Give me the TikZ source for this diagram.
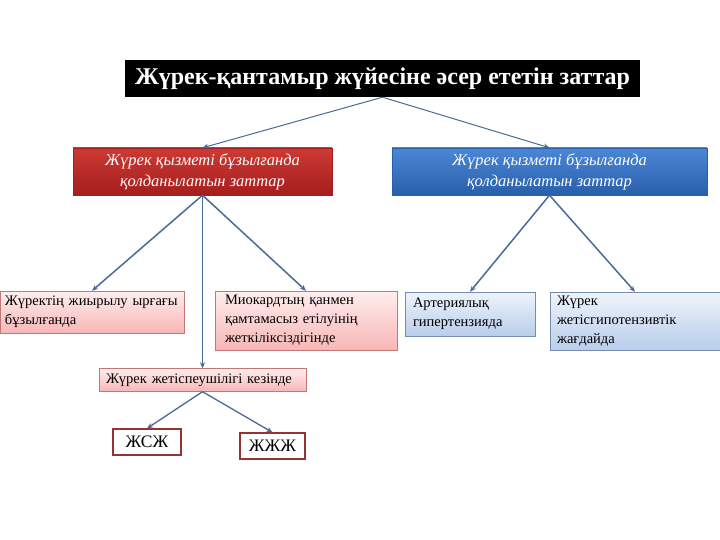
\documentclass[tikz,border=0pt]{standalone}
\usepackage{fontspec}
\setmainfont{Liberation Serif}
\usetikzlibrary{arrows.meta}
\definecolor{redtop}{RGB}{205,58,52}
\definecolor{redbot}{RGB}{165,30,30}
\definecolor{bluetop}{RGB}{75,135,215}
\definecolor{bluebot}{RGB}{40,95,170}
\definecolor{pinktop}{RGB}{255,238,238}
\definecolor{pinkbot}{RGB}{248,182,182}
\definecolor{pinkline}{RGB}{195,120,120}
\definecolor{skytop}{RGB}{238,244,252}
\definecolor{skybot}{RGB}{185,205,235}
\definecolor{skyline}{RGB}{120,140,175}
\definecolor{leafline}{RGB}{150,50,50}
\definecolor{linkcol}{RGB}{75,105,150}
\tikzstyle{heading} = [rectangle, fill=black, text=white, minimum width=515pt,
minimum height=37pt, inner sep=0pt, font=\bfseries\fontsize{24}{26}\selectfont]
\tikzstyle{redgroup} = [rectangle, top color=redtop, bottom color=redbot,
draw=redbot, text=white, minimum width=259pt, minimum height=47pt, inner sep=0pt,
align=center, font=\itshape\fontsize{16.5}{21}\selectfont]
\tikzstyle{bluegroup} = [rectangle, top color=bluetop, bottom color=bluebot,
draw=bluebot, text=white, minimum width=315pt, minimum height=47pt, inner sep=0pt,
align=center, font=\itshape\fontsize{16.5}{21}\selectfont]
\tikzstyle{pinkcase} = [rectangle, top color=pinktop, bottom color=pinkbot,
draw=pinkline, inner sep=0pt, align=left, font=\fontsize{14.5}{19}\selectfont]
\tikzstyle{skycase} = [rectangle, top color=skytop, bottom color=skybot,
draw=skyline, inner sep=0pt, align=left, font=\fontsize{14.5}{19}\selectfont]
\tikzstyle{leaf} = [rectangle, fill=white, draw=leafline, line width=1.2pt,
inner sep=0pt, minimum height=26pt, font=\fontsize{17.5}{20}\selectfont]
\tikzstyle{link} = [draw=linkcol, line width=1pt, -{Stealth[length=6pt,width=5pt]}]

\begin{document}
\begin{tikzpicture}[x=1pt, y=-1pt]
    \useasboundingbox (0,0) rectangle (720,540);
    \node (top) [heading] at (382.5,78.5) {Жүрек-қантамыр жүйесіне әсер ететін заттар};
    \node (g1) [redgroup] at (202.5,171.5) {Жүрек қызметі бұзылғанда\\қолданылатын заттар};
    \node (g2) [bluegroup] at (549.5,171.5) {Жүрек қызметі бұзылғанда\\қолданылатын заттар};
    \node (c1) [pinkcase, minimum width=184pt, minimum height=42pt,
      text width=174pt] at (92,312) {Жүректің жиырылу ырғағы\\бұзылғанда};
    \node (c2) [pinkcase, minimum width=182pt, minimum height=59pt,
      text width=162pt] at (306,320.5) {Миокардтың қанмен\\қамтамасыз етілуінің\\жеткіліксіздігінде};
    \node (c3) [pinkcase, minimum width=207pt, minimum height=23pt,
      text width=193pt] at (202.5,380) {Жүрек жетіспеушілігі кезінде};
    \node (c4) [skycase, minimum width=130pt, minimum height=44pt,
      text width=114pt] at (470,314) {Артериялық\\гипертензияда};
    \node (c5) [skycase, minimum width=170pt, minimum height=58pt,
      text width=156pt] at (635,321) {Жүрек\\жетісгипотензивтік\\жағдайда};
    \node (l1) [leaf, minimum width=68pt] at (147,442) {ЖСЖ};
    \node (l2) [leaf, minimum width=65pt] at (272.5,446) {ЖЖЖ};
    \draw [link] (top.south) -- (g1.north);
    \draw [link] (top.south) -- (g2.north);
    \draw [link, line width=1.5pt] (g1.south) -- (c1.north);
    \draw [link, line width=1.5pt] (g1.south) -- (c2.north);
    \draw [link, line width=0.7pt] (g1.south) -- (c3.north);
    \draw [link, line width=1.5pt] (g2.south) -- (c4.north);
    \draw [link, line width=1.5pt] (g2.south) -- (c5.north);
    \draw [link, line width=1.3pt] (c3.south) -- (l1.north);
    \draw [link, line width=1.3pt] (c3.south) -- (l2.north);
\end{tikzpicture}
\end{document}
